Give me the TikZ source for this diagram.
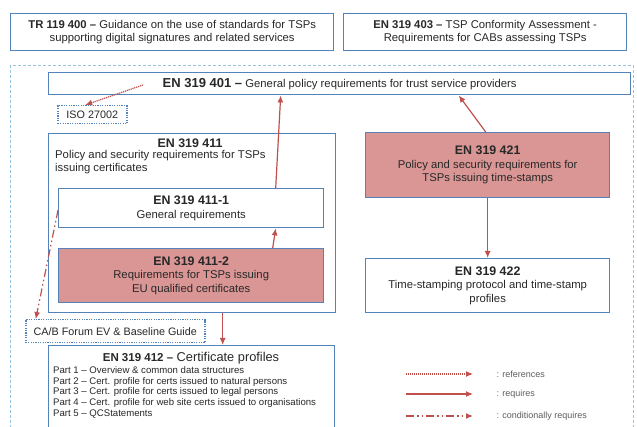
\documentclass[tikz,border=0pt]{standalone}
\usepackage{fontspec}
\setmainfont{Liberation Sans}
\usetikzlibrary{arrows.meta,calc}
\definecolor{bbord}{RGB}{84,130,186}
\definecolor{rfill}{RGB}{217,150,148}
\definecolor{rarrow}{RGB}{192,80,77}
\definecolor{lblue}{RGB}{150,195,225}
\definecolor{txt}{RGB}{40,40,40}
\begin{document}
\begin{tikzpicture}[x=1pt,y=-1pt,
  box/.style={draw=bbord,line width=1.4pt,fill=white,inner sep=0pt,anchor=north west,align=center,text=txt,font=\fontsize{11.3}{13.5}\selectfont},
  redbox/.style={box,fill=rfill},
  dotbox/.style={draw=bbord,line width=1.5pt,dash pattern=on 1.2pt off 1.2pt,fill=white,inner sep=0pt,anchor=north west,align=center,text=txt,font=\fontsize{10.8}{12}\selectfont},
  req/.style={draw=rarrow,line width=1.2pt,-{Latex[length=7pt,width=6pt]}},
  refr/.style={draw=rarrow,line width=1.2pt,dash pattern=on 1.2pt off 0.8pt,-{Latex[length=7pt,width=6pt]}},
  cond/.style={draw=rarrow,line width=1.2pt,dash pattern=on 8pt off 3pt on 1.5pt off 3pt on 1.5pt off 3pt,-{Latex[length=7pt,width=6pt]}},
  ttl/.style={font=\fontsize{12.4}{14}\selectfont\bfseries},
  legtxt/.style={anchor=west,text=txt!75,font=\fontsize{9}{10}\selectfont}
]
\useasboundingbox (0,0) rectangle (637,427);
\clip (0,0) rectangle (637,427);
\fill[white] (0,0) rectangle (637,427);

% top boxes
\node[box,minimum width=323pt,minimum height=37pt] (tr) at (10,13)
  {\textbf{TR 119 400 –} Guidance on the use of standards for TSPs\\supporting digital signatures and related services};
\node[box,minimum width=283pt,minimum height=37pt] (en403) at (343,13)
  {\textbf{EN 319 403 –} TSP Conformity Assessment -\\Requirements for CABs assessing TSPs};

% outer dashed region
\draw[lblue,line width=0.9pt,dash pattern=on 3pt off 2pt] (10,65) rectangle (633,440);

\node[box,minimum width=582pt,minimum height=22pt] (en401) at (48,72)
  {{\fontsize{13}{14}\selectfont\bfseries EN 319 401 –} General policy requirements for trust service providers};

\node[dotbox,minimum width=69pt,minimum height=18pt] (iso) at (57,105) {ISO 27002};

\node[box,minimum width=287pt,minimum height=179pt] (en411) at (48,133) {};
\node[ttl,text=txt] (en411t) at (190,143) {EN 319 411};
\node[anchor=north west,align=left,inner sep=0pt,text=txt,font=\fontsize{11.3}{13}\selectfont] (en411s) at (55,150)
  {Policy and security requirements for TSPs\\issuing certificates};

\node[box,minimum width=265pt,minimum height=39pt] (en4111) at (58,188)
  {{\fontsize{12.4}{14}\selectfont\bfseries EN 319 411-1}\\General requirements};
\node[redbox,minimum width=265pt,minimum height=54pt] (en4112) at (58,248)
  {{\fontsize{12.4}{14}\selectfont\bfseries EN 319 411-2}\\Requirements for TSPs issuing\\EU qualified certificates};

\node[redbox,minimum width=244pt,minimum height=65pt] (en421) at (365,132)
  {{\fontsize{12.4}{14}\selectfont\bfseries EN 319 421}\\Policy and security requirements for\\TSPs issuing time-stamps};
\node[box,minimum width=244pt,minimum height=54pt] (en422) at (365,258)
  {{\fontsize{12.4}{14}\selectfont\bfseries EN 319 422}\\Time-stamping protocol and time-stamp\\profiles};

\node[dotbox,minimum width=179pt,minimum height=23pt] (cab) at (25,319) {CA/B Forum EV \& Baseline Guide};

\node[box,minimum width=286pt,minimum height=95pt] (en412) at (48,345) {};
\node[text=txt,font=\fontsize{12.8}{14}\selectfont] (en412t) at (191,358)
  {{\fontsize{11.5}{14}\selectfont\bfseries EN 319 412 –} Certificate profiles};
\node[anchor=north west,align=left,inner sep=0pt,text=txt,font=\fontsize{9.6}{10.9}\selectfont] (en412s) at (53,366)
  {Part 1 – Overview \& common data structures\\
   Part 2 – Cert. profile for certs issued to natural persons\\
   Part 3 – Cert. profile for certs issued to legal persons\\
   Part 4 – Cert. profile for web site certs issued to organisations\\
   Part 5 – QCStatements};

% connectors
\coordinate (r1) at (143,85);
\draw[refr] (r1) -- ([xshift=-7pt]iso.north);
\draw[req] ([xshift=84.5pt]en4111.north) -- ([xshift=-59pt]en401.south);
\draw[req] ([xshift=81.5pt]en4112.north) -- ([xshift=84.5pt]en4111.south);
\draw[req] ([xshift=-2pt]en421.north) -- ([xshift=119pt]en401.south);
\draw[req] (en421.south) -- (en422.north);
\draw[req] ([xshift=30.5pt]en411.south) -- ([xshift=31pt]en412.north);
\draw[cond] ([yshift=-2pt]en4111.west) -- ([xshift=-79.5pt]cab.north);

% legend
\coordinate (l1a) at (406,374); \coordinate (l1b) at (473,374);
\coordinate (l2a) at (406,394); \coordinate (l2b) at (473,394);
\coordinate (l3a) at (406,416); \coordinate (l3b) at (473,416);
\draw[refr] (l1a) -- (l1b);
\draw[req] (l2a) -- (l2b);
\draw[cond] (l3a) -- (l3b);
\node[legtxt] (lt1) at (493,374) {: references};
\node[legtxt] (lt2) at (493,394) {: requires};
\node[legtxt] (lt3) at (493,416) {: conditionally requires};
\end{tikzpicture}
\end{document}
